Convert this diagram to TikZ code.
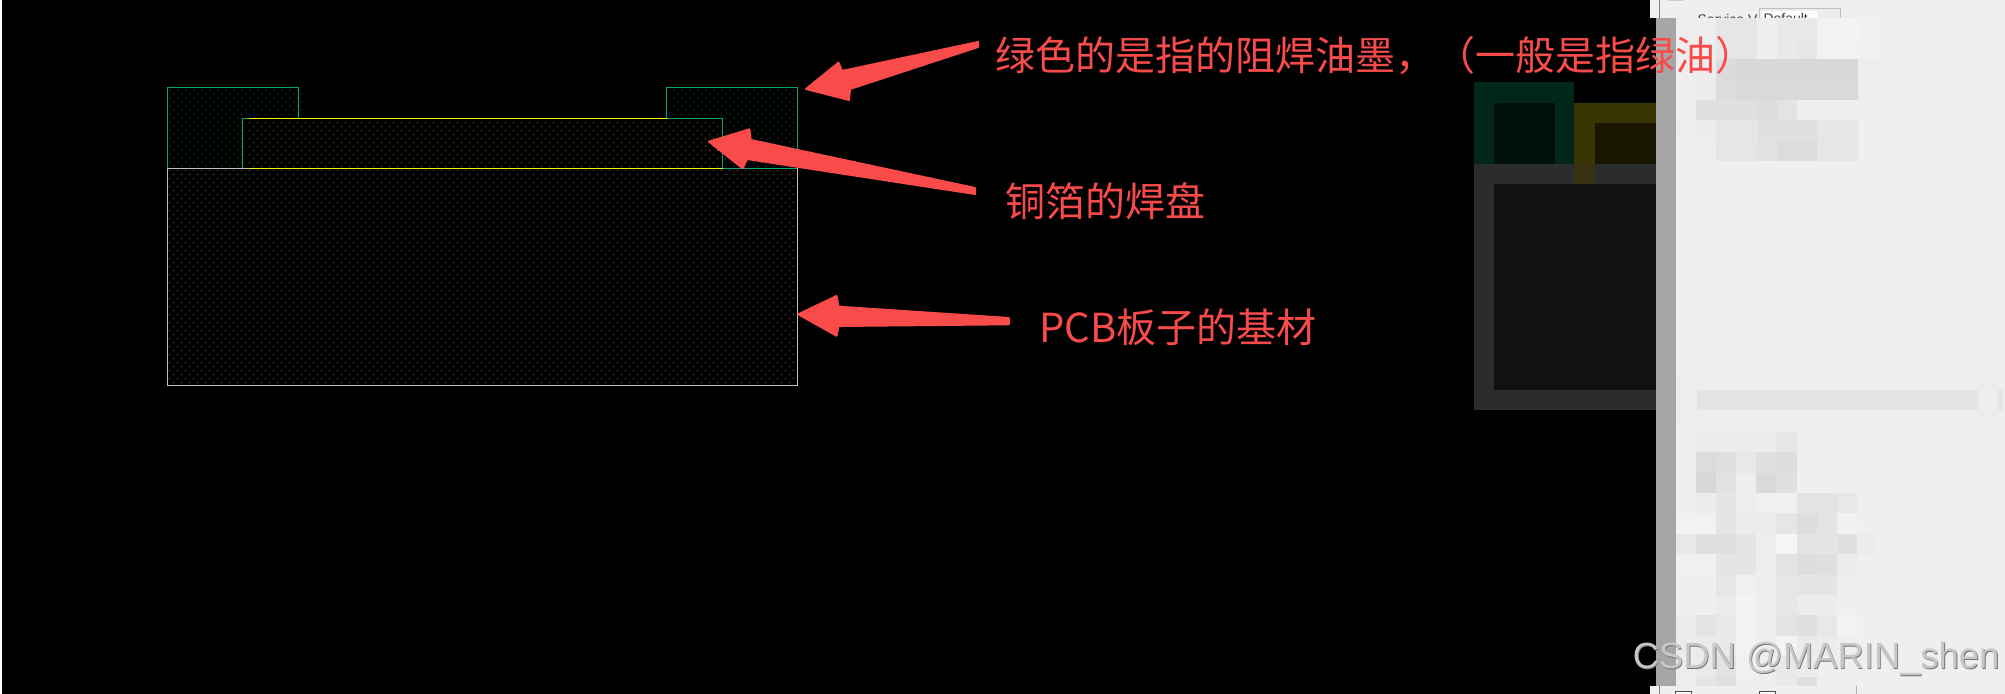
\documentclass[tikz,border=0pt]{standalone}
\usepackage{fontspec}
\newfontfamily\cjk{Noto Sans CJK SC}
\setmainfont{Liberation Sans}
\definecolor{maskgreen}{RGB}{0,168,120}
\definecolor{padyellow}{RGB}{245,245,0}
\definecolor{basegray}{RGB}{190,190,190}
\definecolor{noteRed}{RGB}{250,75,75}
\definecolor{panelgray}{RGB}{239,239,239}
\newcommand{\dotfield}[5]{%
  \fill[#5] \foreach \row in {0,...,#4} {\foreach \col in {0,...,#3}
    {({#1+8*\col+4*mod(\row,2)},{#2+4*\row}) rectangle +(1,1)}};}
\newcommand{\blockrows}[4]{%
  \foreach \row/\levs in {#4} {\foreach \lev [count=\col from 0] in \levs {
    \definecolor{cellgray}{RGB}{\lev,\lev,\lev}
    \fill[cellgray] ({#1+#2*\col},{#3+20.4*\row}) rectangle +(#2,20.4);}}}
\begin{document}
\begin{tikzpicture}[x=0.5pt,y=-0.5pt,line width=0.5pt,
    note/.style={font=\cjk\fontsize{20}{24}\selectfont,text=noteRed,anchor=west,inner sep=0pt},
    pointer/.style={fill=noteRed,draw=noteRed,line width=1pt,line join=round},
    stamp/.style={font=\fontsize{18.2}{22}\selectfont,anchor=east,inner sep=0pt},
    ghost/.style={font=\fontsize{7}{9}\selectfont,anchor=north west,inner sep=0pt,text=black!75}]
  \useasboundingbox (0,0) rectangle (2005,694);
  \fill[black] (0,0) rectangle (2005,694);
  \fill[white] (0,0) rectangle (2,694);
  % dotted layers
  \dotfield{169}{90}{16}{19}{maskgreen!50!black}
  \dotfield{673}{90}{15}{19}{maskgreen!50!black}
  \fill[black] (243,118) rectangle (722,168);
  \dotfield{249}{122}{58}{11}{padyellow!50!black}
  \dotfield{169}{170}{78}{53}{white!38!black}
  % outlines
  \draw[maskgreen] (167.7,168.3) -- (167.7,87.3) -- (298.5,87.3) -- (298.5,118.3);
  \draw[maskgreen] (666.8,118.3) -- (666.8,87.3) -- (797.6,87.3) -- (797.6,168.3) -- (722.6,168.3);
  \draw[maskgreen] (242.7,168.3) -- (242.7,118.3) -- (249,118.3);
  \draw[maskgreen] (666.8,118.3) -- (722.6,118.3) -- (722.6,168.3);
  \draw[padyellow] (249,118.3) -- (666.8,118.3);
  \draw[padyellow] (249,168.3) -- (722.6,168.3);
  \draw[basegray] (249,168.3) -- (167.7,168.3) -- (167.7,386) -- (797.6,386) -- (797.6,168.3);
  % right panel, blurred
  \fill[panelgray] (1650,0) rectangle (2005,18.3);
  \draw[gray] (1659.5,0) -- (1659.5,18.3);
  \fill[black!20] (1668,0) rectangle (1683,1);
  \begin{scope}
    \clip (1650,0) rectangle (2005,18.3);
    \fill[black!7] (1759,9) rectangle (1840,30);
    \fill[white] (1762,11) rectangle (1817,30);
    \draw[black!25] (1759,9) rectangle (1840,30);
    \node[ghost] (servicetext) at (1697,13.5) {Service V};
    \node[ghost] (defaulttext) at (1763,12.5) {Default};
  \end{scope}
  \fill[panelgray] (1676,18.3) rectangle (2005,686);
  \blockrows{1676}{20.2}{18.3}{0/{238,237,230,230,239,233,233,242,244,241},
    1/{238,237,230,230,238,233,230,242,243,241},
    2/{238,236,219,216,216,216,216,216,216,238},
    3/{238,236,220,217,217,217,217,217,217,238},
    4/{238,224,224,224,221,227,239,239,239,239},
    5/{237,236,230,230,224,224,224,230,230,239},
    6/{239,238,230,230,226,221,221,230,230,239}}
  \fill[black!7] (1676,370) rectangle (2003,430);
  \fill[black!11] (1696.6,390) rectangle (1978,410);
  \fill[black!11] (1998,390) rectangle (2003,410);
  \blockrows{1675.3}{20.2}{431.7}{0/{238,236,236,236,236,230,238,239,239},
    1/{238,220,223,232,224,221,238,239,239},
    2/{238,216,226,238,218,224,239,239,239},
    3/{238,236,229,238,240,240,227,227,232},
    4/{242,242,229,236,236,230,221,227,241},
    5/{232,224,224,229,238,245,227,229,224,236},
    6/{240,240,229,229,238,227,221,223,236},
    7/{239,239,230,240,238,230,229,229,238},
    8/{239,239,235,243,238,230,236,236,239},
    9/{236,227,232,243,238,227,224,232,243},
    10/{236,234,234,243,238,243,234,236,239},
    11/{236,234,227,240,238,232,236,239,239}}
  \blockrows{1675.3}{20.2}{676.5}{0/{238,229,223,238,238,234,223,238,238}}
  % dark mosaic of the same layers
  \definecolor{cellgreen}{RGB}{1,38,26}\definecolor{cellgreendark}{RGB}{0,16,10}
  \definecolor{cellyellow}{RGB}{58,53,5}\definecolor{cellyellowdark}{RGB}{26,23,0}
  \definecolor{cellframe}{RGB}{43,44,45}\definecolor{cellframedark}{RGB}{17,17,17}
  \fill[cellgreen] (1473.5,82.3) rectangle (1574.4,164);
  \fill[cellgreendark] (1494,102.7) rectangle (1554.6,164);
  \fill[cellyellow] (1574.4,102.7) rectangle (1655.5,164);
  \fill[cellyellowdark] (1595,123) rectangle (1655.5,164);
  \fill[cellframe] (1473.5,164) rectangle (1655.5,410);
  \fill[cellyellow!70!cellframe] (1574.4,164) rectangle (1595,184);
  \fill[cellframedark] (1494,184) rectangle (1655.5,390);
  \fill[black!35] (1655.5,18.3) rectangle (1676,686);
  \fill[panelgray] (1650,686) rectangle (2005,694);
  \draw[gray] (1659.5,686) -- (1659.5,694);
  \draw[black!30] (1856,686) -- (1856,694);
  \fill[white] (1675,691) rectangle (1691,694);
  \draw[black!70] (1675,694) -- (1675,691) -- (1691,691) -- (1691,694);
  \fill[white] (1759,691) rectangle (1775,694);
  \draw[black!70] (1759,694) -- (1759,691) -- (1775,691) -- (1775,694);
  % pointers
  \fill[pointer] (978,42) -- (842,71) -- (838.5,62.7) -- (806,89) -- (849,100) -- (850,89) -- (978,47) -- cycle;
  \fill[pointer] (975,188) -- (750.7,140) -- (749.4,129.3) -- (709,141.7) -- (742.7,168.3) -- (747,159) -- (975,194) -- cycle;
  \fill[pointer] (1008.8,318) -- (838.5,306.7) -- (836.5,296) -- (798.3,314.3) -- (836.5,335.7) -- (838.5,326) -- (1008.8,324.3) -- cycle;
  % labels
  \node[note] (masknote) at (995,56) {绿色的是指的阻焊油墨，（一般是指绿油）};
  \node[note] (padnote) at (1005,201) {铜箔的焊盘};
  \node[note] (basenote) at (1039,327) {PCB板子的基材};
  \node[stamp,text=black!55] (stampshadow) at (2000.8,659.8) {CSDN @MARIN\_shen};
  \node[stamp,text=black!22] (stamptext) at (2000,659) {CSDN @MARIN\_shen};
\end{tikzpicture}
\end{document}
